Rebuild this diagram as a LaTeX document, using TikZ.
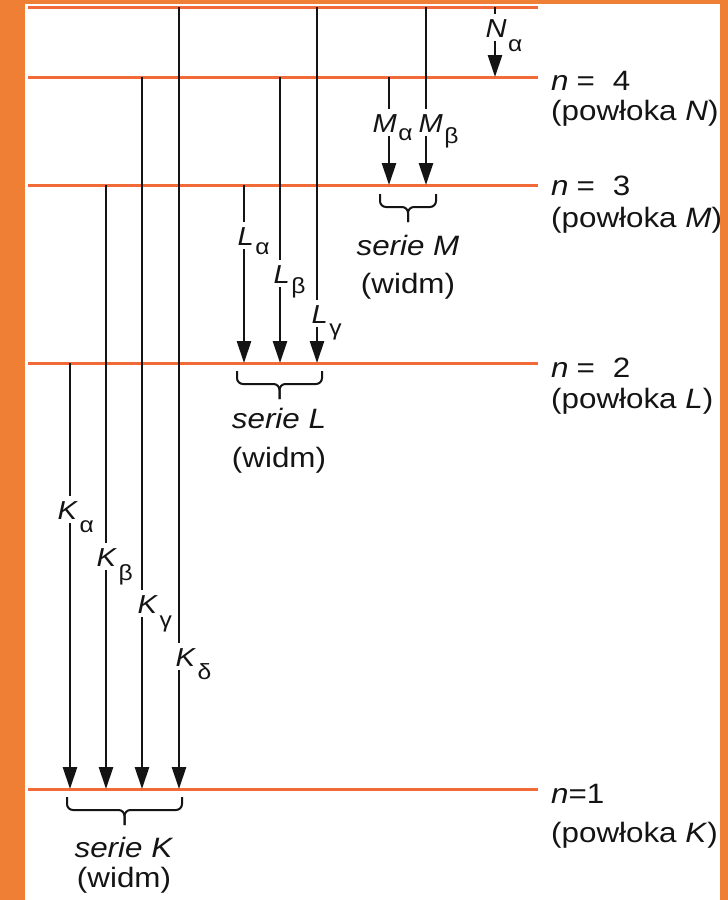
\documentclass[tikz,border=0pt]{standalone}
\usepackage{fontspec}
\setmainfont{Liberation Sans}[FakeStretch=1.12]
\usetikzlibrary{arrows.meta}
\definecolor{frameorange}{RGB}{238,127,52}
\definecolor{levelorange}{RGB}{242,106,56}
\definecolor{ink}{RGB}{20,20,20}
\newcommand\lblsub[3]{\textit{#1}\rlap{\smash{\raisebox{-#3pt}{\kern1.5pt\upshape\fontsize{22}{22}\selectfont #2}}}}
\tikzset{
  levelline/.style={levelorange, line width=3pt},
  trans/.style={ink, line width=2.8pt, -{Triangle[length=22pt,width=14pt]}},
  lab/.style={anchor=base west, fill=white, inner xsep=0.5pt, inner ysep=4pt,
    text height=19pt, text depth=0pt, font=\fontsize{26}{26}\selectfont, text=ink},
  brc/.style={ink, line width=2pt, rounded corners=6pt},
  txt/.style={font=\fontsize{28}{28}\selectfont, text=ink, inner sep=0pt},
}
\begin{document}
\begin{tikzpicture}[x=1pt,y=-1pt]
\fill[frameorange] (0,0) rectangle (728,900);
\fill[white] (25,4) rectangle (720,900);
\useasboundingbox (0,0) rectangle (728,900);
% energy levels
\foreach \y/\n in {7/5,77/4,185/3,363/2,789/1} {
  \coordinate (lv\n w) at (28,\y);
  \coordinate (lv\n e) at (538,\y);
  \draw[levelline] (lv\n w) -- (lv\n e);
}
% transitions
\foreach \x/\ya/\yb/\nm in {70/363/789/Ka, 106/185/789/Kb, 142/77/789/Kg, 179/7/789/Kd,
    244/185/363/La, 280/77/363/Lb, 317/7/363/Lg,
    389/77/185/Ma, 426/7/185/Mb, 495/7/77/Na} {
  \coordinate (\nm s) at (\x,\ya);
  \coordinate (\nm e) at (\x,\yb);
  \draw[trans] (\nm s) -- (\nm e);
}
% transition labels
\node[lab] (Kal) at (57,519) {\lblsub{K}{α}{13}};
\node[lab] (Kbl) at (96,566) {\lblsub{K}{β}{14}};
\node[lab] (Kgl) at (137,613) {\lblsub{K}{γ}{14}};
\node[lab] (Kdl) at (175,666) {\lblsub{K}{δ}{13}};
\node[lab] (Lal) at (237,245) {\lblsub{L}{α}{9}};
\node[lab] (Lbl) at (273,283) {\lblsub{L}{β}{10}};
\node[lab] (Lgl) at (311,323) {\lblsub{L}{γ}{12}};
\node[lab] (Mal) at (372,132) {\lblsub{M}{α}{8}};
\node[lab] (Mbl) at (418,132) {\lblsub{M}{β}{11}};
\node[lab] (Nal) at (485,37) {\lblsub{N}{α}{14}};
% braces
\foreach \xa/\xb/\y/\nm in {67/182/797/K, 237/322/371/L, 380/436/194/M} {
  \coordinate (b\nm 1) at (\xa,\y);
  \coordinate (b\nm 2) at (\xb,\y);
  \coordinate (b\nm m) at ({(\xa+\xb)/2},\y+13);
  \coordinate (b\nm t) at ({(\xa+\xb)/2},\y+28);
  \draw[brc] (b\nm 1) |- (b\nm m) -- (b\nm t);
  \draw[brc] (b\nm 2) |- (b\nm m) -- (b\nm t);
}
% series captions
\node[txt, anchor=base] (sK) at (124,857) {\textit{serie K}};
\node[txt, anchor=base] (wK) at (124,887) {(widm)};
\node[txt, anchor=base] (sL) at (279,428) {\textit{serie L}};
\node[txt, anchor=base] (wL) at (279,467) {(widm)};
\node[txt, anchor=base] (sM) at (408,255) {\textit{serie M}};
\node[txt, anchor=base] (wM) at (408,293) {(widm)};
% level captions
\node[txt, anchor=base west] (n4) at (551,90) {\textit{n}\hspace{8pt}=\hspace{18pt}4};
\node[txt, anchor=base west] (p4) at (551,120) {(powłoka \textit{N})};
\node[txt, anchor=base west] (n3) at (551,195) {\textit{n}\hspace{8pt}=\hspace{18pt}3};
\node[txt, anchor=base west] (p3) at (551,227) {(powłoka \textit{M})};
\node[txt, anchor=base west] (n2) at (551,377) {\textit{n}\hspace{8pt}=\hspace{18pt}2};
\node[txt, anchor=base west] (p2) at (551,408) {(powłoka \textit{L})};
\node[txt, anchor=base west] (n1) at (551,803) {\textit{n}=1};
\node[txt, anchor=base west] (p1) at (551,842) {(powłoka \textit{K})};
\end{tikzpicture}
\end{document}
